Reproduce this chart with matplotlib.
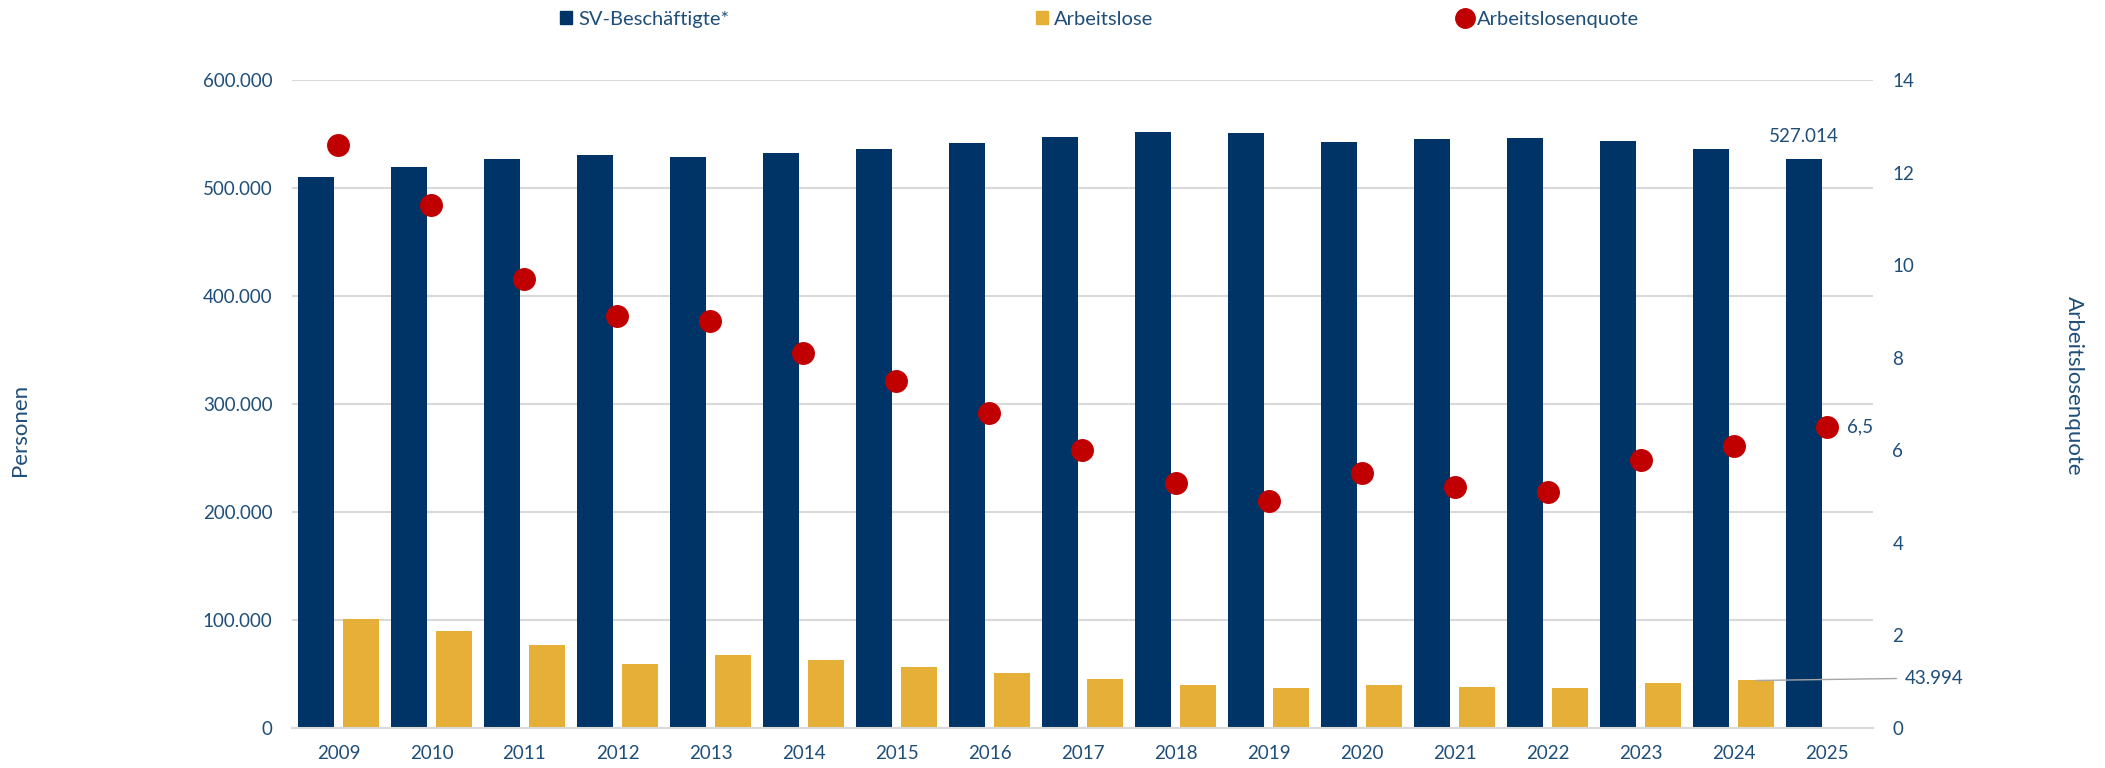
import matplotlib.pyplot as plt
import numpy as np
from matplotlib.ticker import FuncFormatter, MultipleLocator
from matplotlib.patches import Patch
from matplotlib.lines import Line2D

plt.rcParams['font.family'] = ['Lato', 'DejaVu Sans']

# Daten
jahre = ['2009', '2010', '2011', '2012', '2013', '2014', '2015', '2016', '2017',
         '2018', '2019', '2020', '2021', '2022', '2023', '2024', '2025']
sv_beschaeftigte = [509900, 519200, 527200, 530900, 528400, 532100, 535800, 541700, 547000,
                    552000, 550500, 542400, 545500, 546400, 544000, 536000, 527014]
arbeitslose = [101200, 89800, 76400, 59600, 68000, 62700, 56800, 51200, 45000,
               39400, 36600, 39800, 37600, 36600, 41300, 43994, np.nan]
quote = [12.6, 11.3, 9.7, 8.9, 8.8, 8.1, 7.5, 6.8, 6.0,
         5.3, 4.9, 5.5, 5.2, 5.1, 5.8, 6.1, 6.5]

navy = '#003366'
gold = '#E6B038'
rot = '#C00000'
txt = '#1F4E79'
grid = '#D9D9D9'
fs = 13.5

def de_fmt(v, pos):
    return f"{int(round(v)):,}".replace(",", ".")

fig = plt.figure(figsize=(21.05, 7.68), dpi=100)
ax = fig.add_axes([0.1387, 0.0521, 0.7511, 0.8437])

x = np.arange(len(jahre))
ax.bar(x - 0.245, sv_beschaeftigte, 0.39, color=navy)
ax.bar(x + 0.245, arbeitslose, 0.39, color=gold)

ax.set_xlim(-0.5, len(jahre) - 0.5)
ax.set_ylim(0, 600000)
ax.yaxis.set_major_locator(MultipleLocator(100000))
ax.yaxis.set_major_formatter(FuncFormatter(de_fmt))
ax.set_xticks(x, jahre)
ax.grid(axis='y', color=grid, lw=1.5)
ax.set_axisbelow(True)
for s in ['top', 'left', 'right']:
    ax.spines[s].set_visible(False)
ax.spines['bottom'].set_color(grid)
ax.spines['bottom'].set_linewidth(1.5)
ax.tick_params(axis='both', length=0, colors=txt, labelsize=fs)
ax.tick_params(axis='y', pad=14)
ax.tick_params(axis='x', pad=12)

ax2 = ax.twinx()
ax2.scatter(x, quote, s=240, color=rot, zorder=3)
ax2.set_ylim(0, 14)
ax2.yaxis.set_major_locator(MultipleLocator(2))
for s in ['top', 'left', 'right', 'bottom']:
    ax2.spines[s].set_visible(False)
ax2.tick_params(axis='y', length=0, colors=txt, labelsize=fs, pad=14)

# Datenbeschriftungen
ax.annotate(de_fmt(sv_beschaeftigte[-1], None), (x[-1] - 0.245, sv_beschaeftigte[-1]),
            xytext=(0, 16), textcoords='offset points', ha='center', va='center',
            color=txt, fontsize=fs)
ax2.annotate(f"{quote[-1]:.1f}".replace(".", ","), (x[-1], quote[-1]),
             xytext=(15, 0), textcoords='offset points', ha='left', va='center',
             color=txt, fontsize=fs)
ax.annotate(de_fmt(arbeitslose[-2], None), (x[-2] + 0.245, arbeitslose[-2]),
            xytext=(107, 1.5), textcoords='offset points', ha='left', va='center',
            color=txt, fontsize=fs,
            arrowprops=dict(arrowstyle='-', color='#A6A6A6', lw=1,
                            shrinkA=4, shrinkB=0, relpos=(0, 0.5)))

fig.text(20 / 2105, 1 - 430 / 768, 'Personen', rotation=90, ha='center', va='center',
         color=txt, fontsize=16)
fig.text(2074 / 2105, 1 - 386 / 768, 'Arbeitslosenquote', rotation=270, ha='center',
         va='center', color=txt, fontsize=16)

handles = [Patch(color=navy), Patch(color=gold),
           Line2D([], [], marker='o', ls='', color=rot, markersize=14)]
fig.legend(handles, ['SV-Beschäftigte*', 'Arbeitslose', 'Arbeitslosenquote'],
           loc='center', bbox_to_anchor=(0.5225, 0.975), ncol=3, frameon=False,
           columnspacing=15.2, handlelength=0.6, handleheight=0.6, handletextpad=0.3,
           fontsize=14.5, labelcolor=txt)

fig.savefig('out.png', dpi=100)
